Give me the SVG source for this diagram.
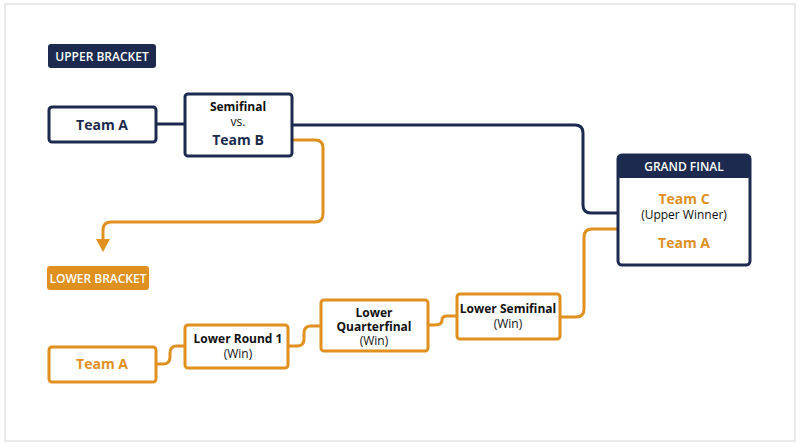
<svg xmlns="http://www.w3.org/2000/svg" width="800" height="447" viewBox="0 0 800 447">
<style>
.n{fill:#fff;stroke:#1b2a4e;stroke-width:3}
.o{fill:#fff;stroke:#e0901f;stroke-width:3}
.cn{fill:none;stroke:#1b2a4e;stroke-width:3}
.co{fill:none;stroke:#e0901f;stroke-width:3}
text{font-family:"Open Sans","Noto Sans",sans-serif;text-anchor:middle}
.t{font-weight:bold;font-size:14px;fill:#1b2a4e}
.to{font-weight:bold;font-size:14px;fill:#e0901f}
.s{font-weight:bold;font-size:12px;fill:#111}
.w{font-size:12px;fill:#111}
.l{font-size:12px;font-weight:600;fill:#fff}
</style>
<defs><marker id="ar" markerWidth="14" markerHeight="14" refX="3" refY="7" orient="auto" markerUnits="userSpaceOnUse"><path d="M0,0L13,7L0,14z" fill="#e0901f"/></marker></defs>
<rect x="5" y="4" width="790" height="437" fill="#fff" stroke="#e2e2e2" stroke-width="1.5"/>
<g id="connectors">
<path class="cn" d="M156,124H184"/>
<path class="cn" d="M292,125H575Q583,125 583,133V205Q583,213 591,213H617"/>
<path class="co" d="M292,140H315Q323,140 323,148V214Q323,222 315,222H111Q103,222 103,230V242" marker-end="url(#ar)"/>
<path class="co" d="M617,229H592Q584,229 584,237V309Q584,317 576,317H560"/>
<path class="co" d="M156,364H163Q170,364 170,357V353Q170,346 177,346H184"/>
<path class="co" d="M288,346H297Q304,346 304,339V333Q304,326 311,326H321"/>
<path class="co" d="M428,325H435Q442,325 442,320Q442,316 447,316H457"/>
</g>
<g id="upper-label"><rect x="48" y="44" width="108" height="24" rx="3" fill="#1b2a4e"/><text class="l" x="102" y="60.5">UPPER BRACKET</text></g>
<g id="u-teamA"><rect class="n" x="49" y="107" width="107" height="35" rx="3"/><text class="t" x="102" y="130">Team A</text></g>
<g id="semifinal"><rect class="n" x="185" y="94" width="107" height="62" rx="3"/><text class="s" x="238" y="111">Semifinal</text><text class="w" x="238" y="126">vs.</text><text class="t" x="238" y="145">Team B</text></g>
<g id="grand-final"><rect class="n" x="618" y="155" width="132" height="110" rx="4"/><path d="M618,178V159Q618,155 622,155H746Q750,155 750,159V178Z" fill="#1b2a4e"/><text class="l" x="684" y="171">GRAND FINAL</text><text class="to" x="684" y="204">Team C</text><text class="w" x="684" y="219">(Upper Winner)</text><text class="to" x="684" y="248">Team A</text></g>
<g id="lower-label"><rect x="47" y="266" width="102" height="24" rx="3" fill="#e0901f"/><text class="l" x="98" y="282.5">LOWER BRACKET</text></g>
<g id="l-teamA"><rect class="o" x="49" y="347" width="107" height="35" rx="3"/><text class="to" x="102" y="369">Team A</text></g>
<g id="lower-r1"><rect class="o" x="185" y="325" width="103" height="43" rx="3"/><text class="s" x="238" y="343">Lower Round 1</text><text class="w" x="238" y="358">(Win)</text></g>
<g id="lower-qf"><rect class="o" x="321" y="300" width="107" height="51" rx="3"/><text class="s" x="374" y="317">Lower</text><text class="s" x="374" y="331">Quarterfinal</text><text class="w" x="374" y="345">(Win)</text></g>
<g id="lower-sf"><rect class="o" x="457" y="294" width="103" height="45" rx="3"/><text class="s" x="508" y="313">Lower Semifinal</text><text class="w" x="508" y="328">(Win)</text></g>
</svg>
